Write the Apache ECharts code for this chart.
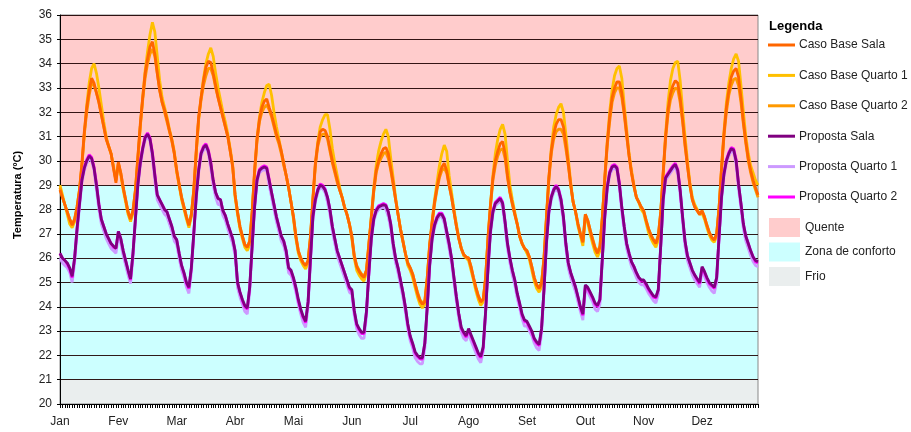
<!DOCTYPE html>
<html>
<head>
<meta charset="utf-8">
<script src="https://cdn.jsdelivr.net/npm/echarts@6/dist/echarts.min.js"></script>
<style>html,body{margin:0;padding:0;background:#fff}#c{width:911px;height:432px}</style>
</head>
<body>
<div id="c"></div>
<script>
// ---- DATA ----
const months = ['Jan','Fev','Mar','Abr','Mai','Jun','Jul','Ago','Set','Out','Nov','Dez'];
const hoursPerMonth = 24;
const yTicks = {min: 20, max: 36, step: 1};
const bandQuente = [29, 36];
const bandConforto = [21, 29];
const bandFrio = [20, 21];

const casoBaseSala = [
28.8,28.5,28.2,27.9,27.6,27.35,27.6,28.1,28.8,29.9,31.2,32.2,32.9,33.4,33.2,32.8,32.4,31.9,31.4,30.9,30.6,30.3,29.7,29.1,
29.95,29.5,28.9,28.4,27.9,27.6,27.95,28.8,30.15,31.5,32.6,33.6,34.2,34.7,34.9,34.4,33.6,32.9,32.4,32.1,31.7,31.25,30.85,30.3,
29.6,29.05,28.5,28.1,27.7,27.35,27.8,28.8,30.4,31.8,32.6,33.3,33.85,34.1,34.05,33.6,33.1,32.6,32.2,31.8,31.4,31.0,30.4,29.75,
28.6,27.9,27.3,26.9,26.55,26.45,26.7,27.9,29.6,30.9,31.7,32.2,32.45,32.55,32.2,31.9,31.5,31.1,30.8,30.4,29.9,29.4,28.9,28.3,
27.7,26.9,26.3,26.0,25.8,25.7,25.9,26.9,28.5,29.9,30.7,31.2,31.3,31.25,31.0,30.5,30.0,29.6,29.2,28.8,28.5,28.1,27.8,27.4,
26.9,26.1,25.65,25.45,25.3,25.2,25.5,26.6,27.7,28.8,29.6,30.0,30.3,30.5,30.55,30.3,29.7,29.1,28.4,27.8,27.2,26.7,26.2,25.8,
25.6,25.35,24.95,24.55,24.25,24.1,24.2,25.2,26.6,27.5,28.3,28.9,29.4,29.75,29.9,29.6,29.0,28.5,27.9,27.3,26.8,26.4,26.15,26.05,
26.0,25.65,25.2,24.8,24.45,24.2,24.3,25.2,26.9,28.2,29.3,30.0,30.4,30.7,30.8,30.3,29.4,28.7,28.25,27.8,27.4,26.9,26.6,26.4,
26.3,26.05,25.65,25.2,24.9,24.75,24.95,26.0,27.7,29.3,30.4,31.1,31.5,31.7,31.7,31.4,30.7,29.9,29.0,28.3,27.9,27.4,27.0,26.65,
27.8,27.55,27.15,26.75,26.4,26.2,26.45,27.7,29.3,30.7,31.8,32.6,33.0,33.25,33.25,32.8,32.0,31.1,30.2,29.5,28.95,28.5,28.3,28.1,
27.95,27.55,27.2,26.95,26.75,26.6,26.9,27.9,29.5,31.0,32.1,32.75,33.1,33.3,33.2,32.6,31.7,30.7,29.8,29.0,28.4,28.1,27.95,27.8,
27.95,27.7,27.35,27.05,26.85,26.75,27.0,28.1,29.7,31.1,32.2,32.9,33.45,33.7,33.8,33.45,32.6,31.6,30.8,30.1,29.6,29.2,28.9,28.6
];
const casoBaseQuarto1 = [
29.0,28.6,28.2,27.8,27.4,27.25,27.5,28.0,28.7,29.8,31.1,32.3,33.2,33.8,34.0,33.6,33.0,32.3,31.6,31.0,30.6,30.3,29.8,29.2,
29.9,29.4,28.8,28.3,27.8,27.5,27.85,28.7,30.0,31.4,32.6,33.7,34.5,35.2,35.7,35.3,34.3,33.3,32.6,32.2,31.8,31.3,30.9,30.4,
29.5,29.0,28.4,28.0,27.6,27.25,27.7,28.7,30.3,31.7,32.6,33.4,34.0,34.4,34.65,34.3,33.6,33.0,32.5,32.0,31.6,31.1,30.5,29.8,
28.5,27.8,27.2,26.8,26.45,26.3,26.55,27.8,29.5,30.9,31.8,32.4,32.8,33.1,33.15,32.7,32.0,31.4,30.9,30.4,29.9,29.4,28.9,28.3,
27.6,26.8,26.2,25.9,25.7,25.55,25.8,26.8,28.4,29.9,30.8,31.4,31.7,31.9,31.9,31.3,30.5,29.9,29.4,28.9,28.5,28.1,27.8,27.4,
26.8,26.0,25.5,25.3,25.15,25.05,25.4,26.5,27.7,28.9,29.8,30.4,30.8,31.1,31.3,31.0,30.1,29.3,28.5,27.8,27.2,26.7,26.2,25.7,
25.5,25.2,24.8,24.4,24.1,23.95,24.1,25.1,26.5,27.5,28.4,29.1,29.8,30.3,30.65,30.4,29.4,28.7,28.0,27.4,26.8,26.4,26.1,26.0,
25.9,25.5,25.1,24.65,24.3,24.05,24.2,25.1,26.8,28.2,29.4,30.3,30.9,31.3,31.5,31.1,30.0,29.0,28.4,27.9,27.4,26.9,26.6,26.4,
26.2,25.95,25.5,25.05,24.75,24.6,24.8,25.9,27.6,29.3,30.5,31.4,31.9,32.2,32.35,32.0,31.1,30.1,29.1,28.3,27.9,27.3,26.9,26.5,
27.7,27.45,27.0,26.6,26.25,26.05,26.3,27.6,29.3,30.8,32.0,32.9,33.5,33.8,33.9,33.4,32.3,31.3,30.3,29.6,29.0,28.5,28.3,28.0,
27.85,27.45,27.05,26.8,26.6,26.45,26.75,27.8,29.5,31.1,32.4,33.3,33.8,34.05,34.1,33.3,32.1,31.0,30.0,29.1,28.5,28.2,28.0,27.8,
27.85,27.6,27.25,26.95,26.75,26.65,26.9,28.0,29.7,31.2,32.4,33.2,33.8,34.2,34.4,34.1,33.1,32.0,31.0,30.3,29.8,29.5,29.2,29.0
];
const casoBaseQuarto2 = [
28.9,28.5,28.2,27.9,27.6,27.4,27.6,28.1,28.8,29.8,31.1,32.0,32.7,33.2,33.1,32.8,32.4,31.9,31.4,30.9,30.6,30.3,29.7,29.2,
29.9,29.5,28.9,28.4,27.9,27.6,27.95,28.8,30.1,31.4,32.5,33.4,34.0,34.4,34.6,34.3,33.6,32.9,32.4,32.0,31.6,31.2,30.8,30.3,
29.6,29.0,28.5,28.1,27.7,27.35,27.8,28.8,30.3,31.7,32.5,33.1,33.5,33.8,33.8,33.5,33.0,32.6,32.2,31.8,31.4,31.0,30.4,29.8,
28.6,27.9,27.3,26.9,26.55,26.45,26.7,27.9,29.5,30.8,31.6,32.0,32.2,32.3,32.1,31.8,31.4,31.0,30.7,30.3,29.8,29.4,28.9,28.3,
27.7,26.9,26.3,26.0,25.8,25.7,25.9,26.9,28.4,29.8,30.6,31.0,31.1,31.1,30.9,30.4,29.9,29.5,29.1,28.8,28.5,28.1,27.8,27.4,
26.9,26.1,25.7,25.5,25.35,25.25,25.5,26.6,27.6,28.7,29.5,29.9,30.1,30.3,30.35,30.1,29.6,29.0,28.4,27.8,27.2,26.7,26.2,25.8,
25.6,25.35,24.95,24.6,24.3,24.15,24.25,25.2,26.5,27.4,28.2,28.8,29.3,29.6,29.7,29.5,29.0,28.5,27.9,27.3,26.8,26.4,26.15,26.05,
26.0,25.65,25.2,24.8,24.45,24.25,24.3,25.2,26.8,28.1,29.2,29.8,30.2,30.45,30.5,30.1,29.3,28.7,28.2,27.8,27.4,26.9,26.6,26.4,
26.3,26.05,25.65,25.2,24.9,24.8,25.0,26.0,27.6,29.2,30.3,30.9,31.2,31.3,31.3,31.1,30.5,29.8,29.0,28.3,27.9,27.4,27.0,26.7,
27.8,27.55,27.15,26.8,26.45,26.25,26.5,27.7,29.2,30.6,31.6,32.4,32.8,33.0,33.0,32.6,31.9,31.0,30.2,29.5,28.95,28.5,28.3,28.1,
27.95,27.55,27.2,26.95,26.75,26.65,26.95,27.9,29.4,30.9,31.9,32.5,32.8,33.0,32.95,32.4,31.6,30.6,29.8,29.0,28.4,28.1,27.95,27.8,
27.95,27.7,27.35,27.05,26.85,26.75,27.0,28.1,29.6,31.0,32.0,32.7,33.1,33.35,33.4,33.1,32.4,31.5,30.7,30.0,29.5,29.1,28.8,28.5
];
const propostaSala = [
26.2,26.0,25.9,25.8,25.6,25.25,26.0,27.2,28.2,29.2,29.7,30.0,30.2,30.1,29.7,29.0,28.2,27.6,27.3,27.0,26.8,26.6,26.5,26.4,
27.1,26.8,26.3,25.9,25.5,25.15,26.2,27.6,29.0,29.9,30.5,30.95,31.1,30.9,30.3,29.4,28.6,28.4,28.2,28.0,27.9,27.6,27.3,26.9,
26.75,26.2,25.7,25.4,25.0,24.8,25.6,27.0,28.5,29.6,30.3,30.55,30.65,30.4,29.9,29.2,28.7,28.45,28.4,27.95,27.75,27.4,27.1,26.8,
26.3,25.0,24.6,24.3,24.05,23.95,24.8,26.5,28.1,29.2,29.6,29.7,29.75,29.7,29.2,28.7,28.2,27.7,27.3,26.9,26.7,26.3,25.6,25.5,
25.2,24.8,24.3,23.9,23.6,23.4,24.2,26.0,27.7,28.4,28.8,29.0,28.95,28.8,28.5,28.0,27.3,26.8,26.3,26.0,25.7,25.4,25.1,24.8,
24.7,23.85,23.3,23.1,22.95,22.95,23.8,25.4,26.8,27.6,27.95,28.1,28.15,28.2,28.15,27.9,27.4,26.6,26.0,25.6,25.1,24.6,24.0,23.3,
22.8,22.5,22.15,22.0,21.9,21.9,22.5,24.0,25.7,26.8,27.35,27.65,27.8,27.8,27.6,27.1,26.6,26.0,25.2,24.4,23.7,23.15,22.95,22.8,
23.1,22.85,22.6,22.35,22.1,21.95,22.35,23.8,25.6,27.1,27.9,28.25,28.35,28.45,28.25,27.5,26.6,26.0,25.5,25.1,24.55,24.15,23.7,23.45,
23.4,23.2,23.0,22.7,22.55,22.45,23.1,24.7,26.6,27.9,28.5,28.8,28.95,28.8,28.4,27.7,26.6,25.8,25.4,25.1,24.8,24.4,24.0,23.7,
24.9,24.8,24.6,24.4,24.15,24.05,24.3,26.0,27.7,28.9,29.5,29.75,29.8,29.7,29.05,28.1,27.3,26.6,26.2,25.85,25.65,25.4,25.2,25.1,
25.1,24.95,24.75,24.6,24.45,24.4,24.7,26.5,28.4,29.3,29.45,29.6,29.75,29.85,29.6,28.8,27.7,26.7,26.1,25.8,25.5,25.3,25.15,25.0,
25.65,25.45,25.2,25.0,24.9,24.8,25.2,26.9,28.5,29.45,30.0,30.3,30.5,30.45,30.0,29.05,28.25,27.4,26.9,26.6,26.3,26.05,25.9,25.85
];
const propostaQuarto1 = [
26.0,25.8,25.7,25.6,25.4,25.0,25.8,27.0,28.1,29.1,29.6,29.9,30.1,30.0,29.6,28.8,28.0,27.4,27.1,26.8,26.6,26.4,26.3,26.2,
26.9,26.6,26.1,25.7,25.3,24.95,26.0,27.5,28.9,29.8,30.4,30.85,31.0,30.8,30.1,29.2,28.4,28.2,28.0,27.8,27.7,27.4,27.1,26.7,
26.55,26.0,25.5,25.2,24.8,24.55,25.4,26.9,28.4,29.5,30.2,30.45,30.55,30.3,29.7,29.0,28.5,28.2,28.2,27.75,27.55,27.2,26.9,26.6,
26.1,24.8,24.4,24.1,23.8,23.7,24.6,26.4,28.0,29.1,29.5,29.6,29.65,29.6,29.0,28.5,28.0,27.5,27.1,26.7,26.5,26.1,25.4,25.3,
25.0,24.6,24.1,23.7,23.35,23.15,24.0,25.8,27.6,28.3,28.7,28.9,28.85,28.7,28.3,27.8,27.1,26.6,26.1,25.8,25.5,25.2,24.9,24.6,
24.5,23.65,23.1,22.85,22.7,22.7,23.6,25.3,26.7,27.5,27.85,28.0,28.05,28.1,28.0,27.7,27.2,26.4,25.8,25.4,24.9,24.4,23.8,23.1,
22.6,22.3,21.9,21.75,21.65,21.65,22.3,23.9,25.6,26.7,27.25,27.55,27.7,27.7,27.45,26.9,26.4,25.8,25.0,24.2,23.5,22.95,22.7,22.6,
22.9,22.6,22.35,22.1,21.85,21.7,22.15,23.7,25.5,27.0,27.8,28.15,28.25,28.35,28.1,27.3,26.4,25.8,25.3,24.9,24.35,23.95,23.5,23.2,
23.2,23.0,22.8,22.5,22.3,22.2,22.9,24.6,26.5,27.8,28.4,28.7,28.85,28.7,28.2,27.5,26.4,25.6,25.2,24.9,24.6,24.2,23.8,23.45,
24.7,24.6,24.4,24.2,23.9,23.8,24.1,25.9,27.6,28.8,29.4,29.65,29.7,29.6,28.9,27.9,27.1,26.4,26.0,25.65,25.45,25.2,25.0,24.9,
24.9,24.75,24.55,24.4,24.25,24.15,24.5,26.4,28.3,29.2,29.35,29.5,29.65,29.75,29.45,28.6,27.5,26.5,25.9,25.6,25.3,25.1,24.95,24.8,
25.45,25.25,25.0,24.8,24.65,24.55,25.0,26.8,28.4,29.35,29.9,30.2,30.4,30.35,29.85,28.85,28.05,27.2,26.7,26.4,26.1,25.85,25.7,25.65
];
const propostaQuarto2 = [
26.2,26.0,25.9,25.75,25.55,25.2,26.0,27.2,28.25,29.25,29.75,30.05,30.25,30.15,29.75,29.05,28.25,27.6,27.3,27.0,26.8,26.6,26.45,26.4,
27.1,26.8,26.3,25.9,25.5,25.1,26.2,27.6,29.05,29.95,30.55,31.0,31.15,30.95,30.35,29.45,28.6,28.4,28.2,28.0,27.9,27.6,27.3,26.9,
26.75,26.2,25.7,25.35,24.95,24.75,25.6,27.0,28.55,29.65,30.35,30.6,30.7,30.45,29.95,29.2,28.7,28.45,28.4,27.95,27.75,27.4,27.1,26.8,
26.3,25.0,24.6,24.25,24.0,23.9,24.8,26.5,28.15,29.25,29.65,29.75,29.8,29.75,29.25,28.7,28.2,27.7,27.3,26.9,26.7,26.3,25.6,25.45,
25.15,24.75,24.25,23.85,23.55,23.35,24.2,26.0,27.75,28.45,28.85,29.05,29.0,28.85,28.5,28.0,27.3,26.8,26.3,26.0,25.7,25.4,25.1,24.75,
24.65,23.8,23.25,23.05,22.9,22.9,23.8,25.4,26.85,27.65,28.0,28.15,28.2,28.25,28.2,27.9,27.4,26.6,26.0,25.6,25.1,24.6,24.0,23.25,
22.75,22.45,22.1,21.95,21.85,21.85,22.5,24.0,25.75,26.85,27.4,27.7,27.85,27.85,27.65,27.1,26.6,26.0,25.2,24.4,23.7,23.1,22.9,22.75,
23.05,22.8,22.55,22.3,22.05,21.9,22.3,23.8,25.65,27.15,27.95,28.3,28.4,28.5,28.3,27.5,26.6,26.0,25.5,25.1,24.55,24.1,23.65,23.4,
23.35,23.15,22.95,22.65,22.5,22.4,23.1,24.7,26.65,27.95,28.55,28.85,29.0,28.85,28.45,27.7,26.6,25.8,25.4,25.1,24.8,24.4,23.95,23.65,
24.85,24.75,24.55,24.35,24.1,24.0,24.3,26.0,27.75,28.95,29.55,29.8,29.85,29.75,29.1,28.1,27.3,26.6,26.2,25.85,25.65,25.4,25.2,25.05,
25.05,24.9,24.7,24.55,24.4,24.35,24.7,26.5,28.45,29.35,29.5,29.65,29.8,29.9,29.65,28.8,27.7,26.7,26.1,25.8,25.5,25.3,25.1,24.95,
25.6,25.4,25.15,24.95,24.85,24.75,25.2,26.9,28.55,29.5,30.05,30.35,30.55,30.5,30.05,29.05,28.25,27.4,26.9,26.6,26.3,26.05,25.85,25.8
];

// ---- CHART ----
const categories = [];
months.forEach(m => { for (let h = 0; h < hoursPerMonth; h++) categories.push(m + ' ' + h + 'h'); });

const FONT = 'Liberation Sans, Arial, sans-serif';
function lineSeries(name, data, color, z) {
  return { name, type: 'line', data, z, showSymbol: false, symbol: 'none',
    lineStyle: { color, width: 2.8 }, itemStyle: { color }, animation: false };
}
function bandSeries(name, range, color) {
  return { name, type: 'line', data: [], z: -1, itemStyle: { color }, lineStyle: { color },
    silent: true, animation: false,
    markArea: { silent: true, z: -1, itemStyle: { color, opacity: 1 },
      data: [[{ yAxis: range[0] }, { yAxis: range[1] }]] } };
}

const chart = echarts.init(document.getElementById('c'), null, { renderer: 'canvas' });
const lineIcon = 'path://M0,0 L27,0 L27,3 L0,3 Z';
chart.setOption({
  animation: false,
  textStyle: { fontFamily: FONT },
  title: { text: 'Legenda', left: 769, top: 20, padding: 0,
    textStyle: { fontFamily: FONT, fontSize: 13, fontWeight: 'bold', color: '#000' } },
  graphic: [{ type: 'text', x: 18, y: 195, rotation: Math.PI / 2,
    style: { text: 'Temperatura (ºC)', fontFamily: FONT, fontSize: 11, fontWeight: 'bold',
      fill: '#000', align: 'center', verticalAlign: 'middle' } }],
  legend: [
    { orient: 'vertical', left: 768, top: 39, padding: 0, itemWidth: 27, itemHeight: 14, itemGap: 18.4,
      textStyle: { fontFamily: FONT, fontSize: 12, color: '#222', padding: [0, 0, 0, -1] },
      data: ['Caso Base Sala','Caso Base Quarto 1','Caso Base Quarto 2','Proposta Sala','Proposta Quarto 1','Proposta Quarto 2']
        .map(n => ({ name: n, icon: lineIcon })) },
    { orient: 'vertical', left: 769, top: 218, padding: 0, itemWidth: 31, itemHeight: 19, itemGap: 5.5,
      textStyle: { fontFamily: FONT, fontSize: 12, color: '#222' },
      data: ['Quente','Zona de conforto','Frio'].map(n => ({ name: n, icon: 'rect' })) }
  ],
  grid: { left: 60, right: 153, top: 15, bottom: 28, show: true, borderColor: '#888', borderWidth: 1,
    backgroundColor: 'transparent' },
  xAxis: { type: 'category', data: categories, boundaryGap: false,
    axisLine: { lineStyle: { color: '#000', width: 1 } },
    axisTick: { interval: 0, length: 4, lineStyle: { color: '#000' } },
    axisLabel: { interval: i => i % hoursPerMonth === 0, formatter: v => v.split(' ')[0],
      fontFamily: FONT, fontSize: 12, color: '#222', margin: 12 },
    splitLine: { show: false } },
  yAxis: { type: 'value', min: yTicks.min, max: yTicks.max, interval: yTicks.step,
    axisLine: { show: true, lineStyle: { color: '#000' } },
    axisTick: { show: true, length: 3, lineStyle: { color: '#000' } },
    axisLabel: { fontFamily: FONT, fontSize: 12, color: '#222', margin: 8 },
    splitLine: { show: true, lineStyle: { color: 'rgba(30,0,0,0.9)', width: 1 } } },
  series: [
    lineSeries('Caso Base Sala', casoBaseSala, '#FF6600', 5),
    lineSeries('Caso Base Quarto 1', casoBaseQuarto1, '#FFC000', 3),
    lineSeries('Caso Base Quarto 2', casoBaseQuarto2, '#FF9900', 4),
    lineSeries('Proposta Sala', propostaSala, '#800080', 8),
    lineSeries('Proposta Quarto 1', propostaQuarto1, '#CC99FF', 6),
    lineSeries('Proposta Quarto 2', propostaQuarto2, '#FF00FF', 7),
    bandSeries('Quente', bandQuente, '#FFCCCC'),
    bandSeries('Zona de conforto', bandConforto, '#CCFFFF'),
    bandSeries('Frio', bandFrio, '#EAEEEE')
  ]
});
</script>
</body>
</html>
